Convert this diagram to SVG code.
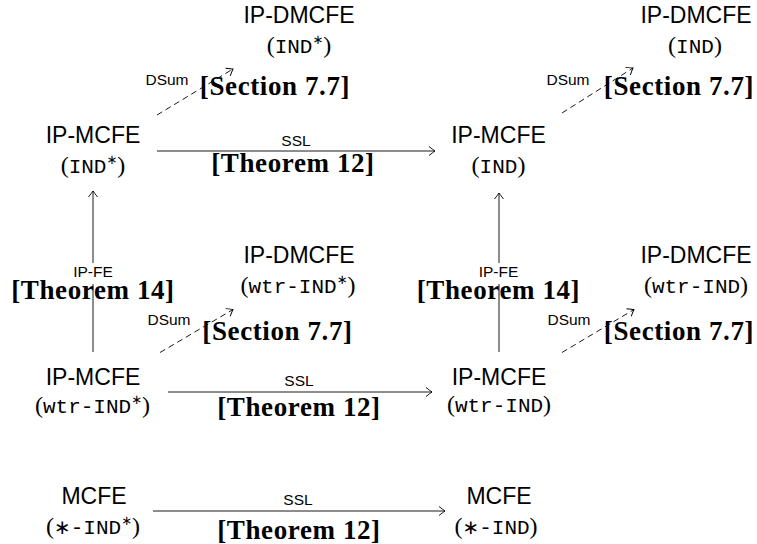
<svg xmlns="http://www.w3.org/2000/svg" width="757" height="544" viewBox="0 0 757 544">
<style>
.lbl{font-family:"Liberation Sans","DejaVu Sans",sans-serif;font-size:23px;fill:#000;text-anchor:middle}
.sub{font-family:"Liberation Serif","DejaVu Serif",serif;font-size:24px;fill:#000;text-anchor:middle}
.tt{font-family:"Liberation Mono","DejaVu Sans Mono",monospace;font-size:21px}
.sup{font-family:"DejaVu Sans",sans-serif;font-size:13px}
.ast{font-family:"DejaVu Sans",sans-serif;font-size:20px}
.elab{font-family:"Liberation Sans","DejaVu Sans",sans-serif;font-size:15.5px;fill:#000;text-anchor:middle}
.ref{font-family:"Liberation Serif","Times New Roman",serif;font-weight:bold;font-size:27px;fill:#000;text-anchor:middle;letter-spacing:0.6px}
.edge{fill:none;stroke:#000;stroke-width:0.9;marker-end:url(#to)}
.dash{stroke-dasharray:6 4}
</style>
<defs>
<marker id="to" markerUnits="userSpaceOnUse" markerWidth="14" markerHeight="14" viewBox="-8 -7 10 14" refX="0" refY="0" orient="auto" overflow="visible">
<path d="M -6 -4.5 Q -1.5 -1 0 0 Q -1.5 1 -6 4.5" fill="none" stroke="#000" stroke-width="0.9"/>
</marker>
</defs>

<g id="connectors">
<line class="edge" x1="157" y1="151" x2="435" y2="151"/>
<line class="edge" x1="168" y1="392" x2="432" y2="392"/>
<line class="edge" x1="153" y1="511" x2="445" y2="511"/>
<line class="edge" x1="93" y1="352" x2="93" y2="191"/>
<line class="edge" x1="499" y1="352" x2="499" y2="193"/>
<line class="edge dash" x1="157" y1="115" x2="233" y2="69"/>
<line class="edge dash" x1="562" y1="113" x2="633" y2="68"/>
<line class="edge dash" x1="160" y1="352.5" x2="233" y2="309.5"/>
<line class="edge dash" x1="562" y1="352.5" x2="634" y2="309.5"/>

<text class="elab" x="296" y="146">SSL</text>
<text class="ref" x="293" y="172">[Theorem 12]</text>
<text class="elab" x="299" y="386">SSL</text>
<text class="ref" x="299" y="415.5">[Theorem 12]</text>
<text class="elab" x="298" y="505">SSL</text>
<text class="ref" x="299" y="538.5">[Theorem 12]</text>

<rect x="71" y="263" width="44" height="21" fill="#fff"/>
<text class="elab" x="93" y="277">IP-FE</text>
<text class="ref" x="93" y="298.5">[Theorem 14]</text>
<rect x="477" y="263" width="44" height="21" fill="#fff"/>
<text class="elab" x="498.5" y="277">IP-FE</text>
<text class="ref" x="498.5" y="298.5">[Theorem 14]</text>

<text class="elab" x="167" y="85">DSum</text>
<text class="ref" x="275" y="94.5">[Section 7.7]</text>
<text class="elab" x="568" y="85">DSum</text>
<text class="ref" x="679" y="94.5">[Section 7.7]</text>
<text class="elab" x="169" y="325">DSum</text>
<text class="ref" x="277.5" y="339.5">[Section 7.7]</text>
<text class="elab" x="569" y="325">DSum</text>
<text class="ref" x="679" y="339.5">[Section 7.7]</text>
</g>

<g id="n_dmcfe_indstar">
<text class="lbl" x="299" y="22.5">IP-DMCFE</text>
<text class="sub" x="299" y="53">(<tspan class="tt">IND</tspan><tspan class="sup" dy="-9">∗</tspan><tspan dy="9">)</tspan></text>
</g>
<g id="n_dmcfe_ind">
<text class="lbl" x="696" y="22.5">IP-DMCFE</text>
<text class="sub" x="695" y="53">(<tspan class="tt">IND</tspan>)</text>
</g>
<g id="n_mcfe_indstar">
<text class="lbl" x="93" y="143">IP-MCFE</text>
<text class="sub" x="93" y="173">(<tspan class="tt">IND</tspan><tspan class="sup" dy="-9">∗</tspan><tspan dy="9">)</tspan></text>
</g>
<g id="n_mcfe_ind">
<text class="lbl" x="498.5" y="143">IP-MCFE</text>
<text class="sub" x="498.5" y="173">(<tspan class="tt">IND</tspan>)</text>
</g>
<g id="n_dmcfe_wtrstar">
<text class="lbl" x="299" y="263">IP-DMCFE</text>
<text class="sub" x="298" y="293">(<tspan class="tt">wtr-IND</tspan><tspan class="sup" dy="-9">∗</tspan><tspan dy="9">)</tspan></text>
</g>
<g id="n_dmcfe_wtr">
<text class="lbl" x="696" y="263">IP-DMCFE</text>
<text class="sub" x="696" y="293">(<tspan class="tt">wtr-IND</tspan>)</text>
</g>
<g id="n_mcfe_wtrstar">
<text class="lbl" x="93" y="384.5">IP-MCFE</text>
<text class="sub" x="92.5" y="413">(<tspan class="tt">wtr-IND</tspan><tspan class="sup" dy="-9">∗</tspan><tspan dy="9">)</tspan></text>
</g>
<g id="n_mcfe_wtr">
<text class="lbl" x="499" y="384.5">IP-MCFE</text>
<text class="sub" x="499" y="412">(<tspan class="tt">wtr-IND</tspan>)</text>
</g>
<g id="n_mcfe_starstar">
<text class="lbl" x="94" y="503.5">MCFE</text>
<text class="sub" x="93" y="534">(<tspan class="ast">∗</tspan><tspan class="tt">-IND</tspan><tspan class="sup" dy="-9">∗</tspan><tspan dy="9">)</tspan></text>
</g>
<g id="n_mcfe_star">
<text class="lbl" x="499" y="503.5">MCFE</text>
<text class="sub" x="496" y="534">(<tspan class="ast">∗</tspan><tspan class="tt">-IND</tspan>)</text>
</g>
</svg>
